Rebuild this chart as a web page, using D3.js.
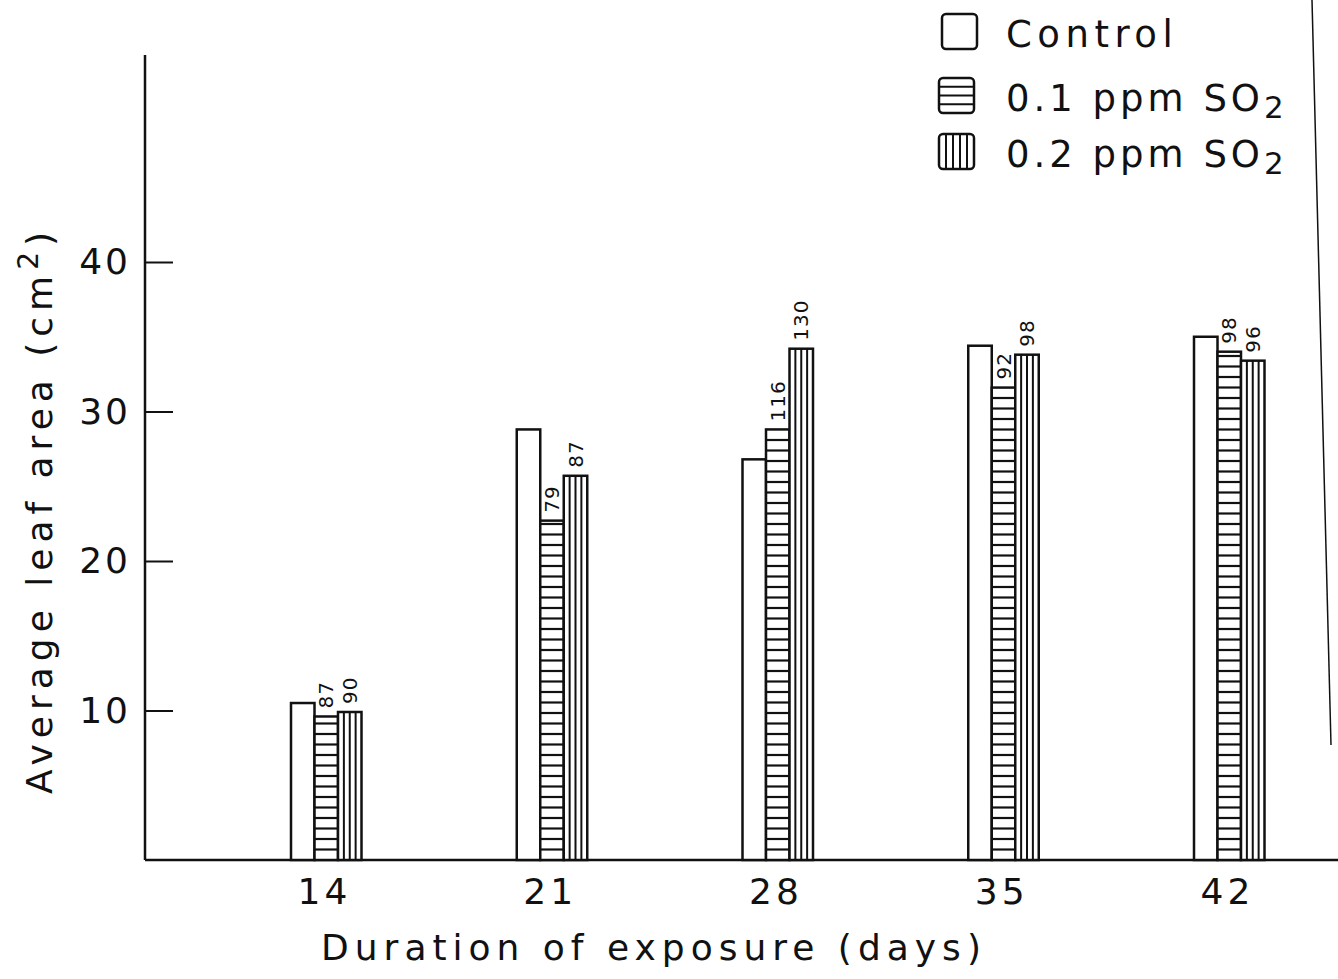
<!DOCTYPE html>
<html>
<head>
<meta charset="utf-8">
<script src="https://cdn.jsdelivr.net/npm/d3@7"></script>
<style>
  body { margin: 0; background: #fff; }
  svg { display: block; }
  text { font-family: "DejaVu Sans", sans-serif; fill: #111; }
</style>
</head>
<body>
<svg id="chart" width="1338" height="979"></svg>
<script>
// data
var days = [14, 21, 28, 35, 42];
var control = [10.5, 28.8, 26.8, 34.4, 35.0];
var so2_01 = [9.6, 22.7, 28.8, 31.6, 34.0];
var so2_02 = [9.9, 25.7, 34.2, 33.8, 33.4];
var pctLabels01 = ["87", "79", "116", "92", "98"];
var pctLabels02 = ["90", "87", "130", "98", "96"];
var yTicks = [10, 20, 30, 40];
var legendLabels = ["Control", "0.1 ppm SO", "0.2 ppm SO"];

var svg = d3.select("#chart"),
    barW = 23.5,
    originX = 145,
    originY = 860;

// x scale gives the left edge of each group, y scale the leaf area
var x = d3.scaleLinear().domain([14, 42]).range([291, 1194]);
var y = d3.scaleLinear().domain([0, 40]).range([originY, 262]);

var ink = "#111";

// y axis (ticks point inward, labels outside)
var yAxis = d3.axisLeft(y)
    .tickValues(yTicks)
    .tickSize(-28)
    .tickPadding(14)
    .tickFormat(d3.format("d"));

var yg = svg.append("g")
    .attr("transform", "translate(" + originX + ",0)")
    .call(yAxis);
yg.select(".domain").remove();
yg.selectAll(".tick line").attr("stroke", ink).attr("stroke-width", 2);
yg.selectAll(".tick text")
    .attr("font-size", 36)
    .attr("letter-spacing", 3)
    .attr("font-family", "DejaVu Sans")
    .attr("fill", ink);

svg.append("line")
    .attr("x1", originX).attr("x2", originX)
    .attr("y1", 55).attr("y2", originY)
    .attr("stroke", ink).attr("stroke-width", 2.5);

// x axis baseline runs off the right edge
svg.append("line")
    .attr("x1", originX).attr("x2", 1338)
    .attr("y1", originY).attr("y2", originY)
    .attr("stroke", ink).attr("stroke-width", 2.5);

var xLab = d3.scaleLinear().domain([14, 42]).range([291 + 33, 1194 + 33]);
var xg = svg.append("g")
    .attr("transform", "translate(0," + (originY + 8) + ")")
    .call(d3.axisBottom(xLab).tickValues(days).tickSize(0).tickPadding(10).tickFormat(d3.format("d")));
xg.select(".domain").remove();
xg.selectAll(".tick text")
    .attr("font-size", 36)
    .attr("letter-spacing", 4)
    .attr("font-family", "DejaVu Sans")
    .attr("fill", ink);

// axis titles
svg.append("text")
    .attr("transform", "translate(52,510) rotate(-90)")
    .attr("text-anchor", "middle")
    .attr("font-size", 36)
    .attr("letter-spacing", 6)
    .text("Average leaf area (cm")
    .append("tspan").attr("dy", -14).attr("font-size", 28).text("2")
    .select(function () { return this.parentNode; })
    .append("tspan").attr("dy", 14).text(")");

svg.append("text")
    .attr("x", 654).attr("y", 960)
    .attr("text-anchor", "middle")
    .attr("font-size", 36)
    .attr("letter-spacing", 6)
    .text("Duration of exposure (days)");

// bars
var groups = svg.append("g").selectAll("g")
    .data(days.map(function (d, i) {
        return { day: d, c: control[i], a: so2_01[i], b: so2_02[i], la: pctLabels01[i], lb: pctLabels02[i] };
    }))
    .join("g");

function barRect(sel, off, key) {
    sel.append("rect")
        .attr("x", function (d) { return x(d.day) + off * barW; })
        .attr("y", function (d) { return y(d[key]); })
        .attr("width", barW)
        .attr("height", function (d) { return originY - y(d[key]); })
        .attr("fill", "#fff")
        .attr("stroke", ink)
        .attr("stroke-width", 2.5);
}

barRect(groups, 0, "c");
barRect(groups, 1, "a");
barRect(groups, 2, "b");

// horizontal hatching for 0.1 ppm
groups.each(function (d) {
    var g = d3.select(this),
        x0 = x(d.day) + barW,
        top = y(d.a);
    var ys = d3.range(originY - 10.5, top + 3, -10.5);
    g.selectAll(".h").data(ys).join("line")
        .attr("x1", x0).attr("x2", x0 + barW)
        .attr("y1", function (v) { return v; })
        .attr("y2", function (v) { return v; })
        .attr("stroke", ink).attr("stroke-width", 2.2);
});

// vertical hatching for 0.2 ppm
groups.each(function (d) {
    var g = d3.select(this),
        x0 = x(d.day) + 2 * barW;
    g.selectAll(".v").data([0.25, 0.5, 0.75]).join("line")
        .attr("x1", function (f) { return x0 + f * barW; })
        .attr("x2", function (f) { return x0 + f * barW; })
        .attr("y1", y(d.b)).attr("y2", originY)
        .attr("stroke", ink).attr("stroke-width", 2);
});

// percentage labels above the treated bars
function pctLabel(off, key, lab) {
    groups.append("text")
        .attr("transform", function (d) {
            return "translate(" + (x(d.day) + off * barW + barW / 2 + 7) + "," + (y(d[key]) - 8) + ") rotate(-90)";
        })
        .attr("font-family", "DejaVu Sans Condensed, DejaVu Sans")
        .attr("font-size", 20)
        .attr("letter-spacing", 1)
        .text(function (d) { return d[lab]; });
}
pctLabel(1, "a", "la");
pctLabel(2, "b", "lb");

// legend
var legend = svg.append("g");
var legY = [14, 78, 134];
var legX = [942, 939, 939];
legendLabels.forEach(function (name, i) {
    var lg = legend.append("g").attr("transform", "translate(" + legX[i] + "," + legY[i] + ")");
    lg.append("rect")
        .attr("width", 35).attr("height", 35)
        .attr("rx", 4)
        .attr("fill", "#fff").attr("stroke", ink).attr("stroke-width", 2.5);
    if (i === 1) {
        lg.selectAll(".h").data([8.75, 17.5, 26.25]).join("line")
            .attr("x1", 0).attr("x2", 35)
            .attr("y1", function (v) { return v; }).attr("y2", function (v) { return v; })
            .attr("stroke", ink).attr("stroke-width", 2.2);
    }
    if (i === 2) {
        lg.selectAll(".v").data([7, 14, 21, 28]).join("line")
            .attr("x1", function (v) { return v; }).attr("x2", function (v) { return v; })
            .attr("y1", 0).attr("y2", 35)
            .attr("stroke", ink).attr("stroke-width", 2);
    }
    var t = lg.append("text")
        .attr("x", 1006 - legX[i]).attr("y", 33)
        .attr("font-size", 37)
        .attr("letter-spacing", i === 0 ? 5.5 : 4)
        .text(name);
    if (i > 0) {
        t.append("tspan").attr("dy", 7).attr("font-size", 31).text("2");
    }
});

// edge of the scanned page
svg.append("line")
    .attr("x1", 1312).attr("y1", 0)
    .attr("x2", 1331).attr("y2", 745)
    .attr("stroke", ink).attr("stroke-width", 1.5);
</script>
</body>
</html>
